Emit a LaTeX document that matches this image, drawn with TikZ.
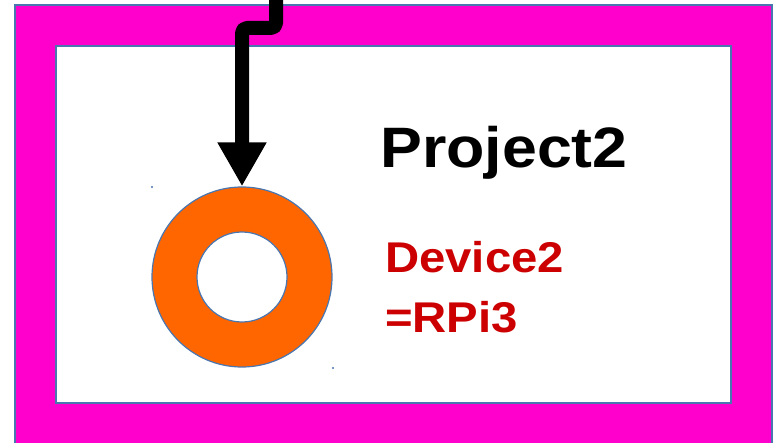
\documentclass[tikz,border=0pt]{standalone}
\usepackage{fontspec}
\setmainfont{Liberation Sans}[FakeStretch=1.1]
\usetikzlibrary{arrows.meta}
\definecolor{frame}{HTML}{FF00CC}
\definecolor{ringfill}{HTML}{FF6600}
\definecolor{outline}{HTML}{4A76B0}
\definecolor{devred}{HTML}{CC0000}
\tikzset{
  box/.style={draw=outline,line width=1.2pt},
  ring/.style={circle,draw=outline,line width=1.2pt,fill=ringfill,minimum size=180pt,inner sep=0pt},
  hole/.style={circle,draw=outline,line width=1.2pt,fill=white,minimum size=90pt,inner sep=0pt},
  feed/.style={line width=14pt,line join=round,rounded corners=5pt,-{Triangle[width=46pt,length=44pt]}}
}
\begin{document}
\begin{tikzpicture}[x=1pt,y=-1pt]
      \clip (0,0) rectangle (783,443);
      \fill[white] (0,0) rectangle (783,443);

      % project frame
      \filldraw[box,fill=frame] (15,5) rectangle (772,460);
      \filldraw[box,fill=white] (56,46) rectangle (731,403);

      \node[ring] (dev) at (242,277){};
      \node[hole] (devhole) at (dev){};
      \fill[outline] (152,187) circle (1.2pt) (333,368) circle (1.2pt);

      \node[anchor=base west,inner sep=0pt,font=\bfseries\fontsize{57}{57}\selectfont] (proj) at (380,168){Project2};
      % base of a two-line node sits on its last line
      \node[anchor=base west,inner sep=0pt,align=left,text=devred,font=\bfseries\fontsize{43}{60}\selectfont] (name) at (385,332){Device2\\=RPi3};

      \coordinate (src) at (276,-10);
      \draw[feed] (src) -- (276,28) -| (dev.north);
    \end{tikzpicture}
\end{document}
